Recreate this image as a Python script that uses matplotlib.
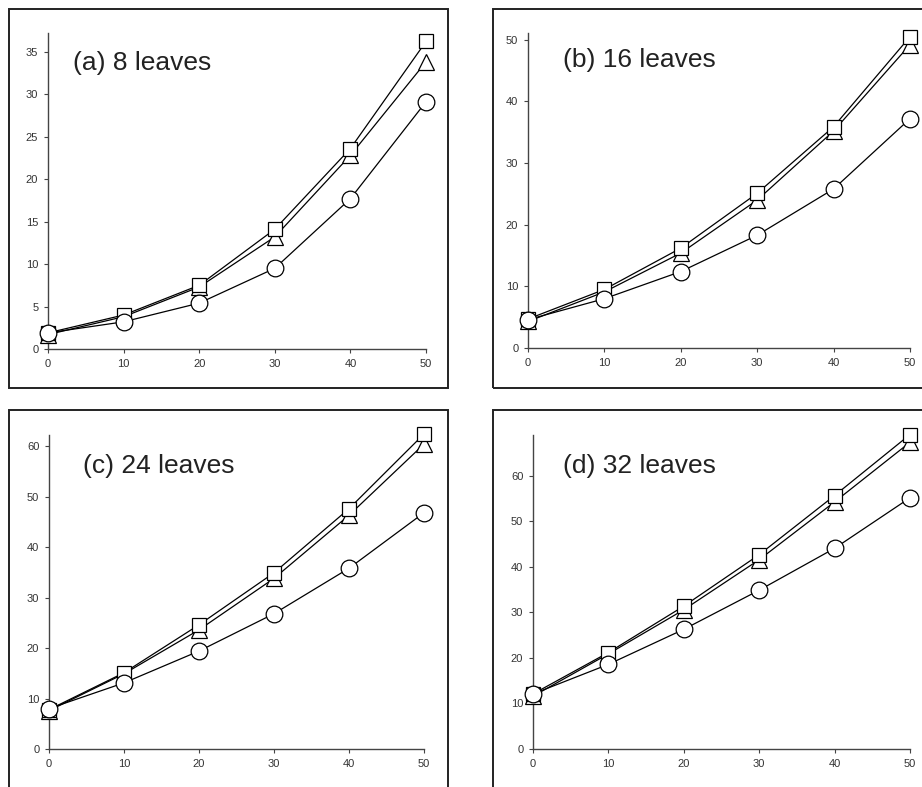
import matplotlib
matplotlib.use("Agg")
import matplotlib.pyplot as plt
from matplotlib.patches import Rectangle

plt.rcParams['font.family'] = ['Liberation Sans', 'DejaVu Sans']

x = [0, 10, 20, 30, 40, 50]

titles = ["(a) 8 leaves", "(b) 16 leaves", "(c) 24 leaves", "(d) 32 leaves"]

square = [
    [1.9, 4.0, 7.5, 14.1, 23.6, 36.2],
    [4.7, 9.5, 16.2, 25.1, 35.9, 50.5],
    [7.8, 15.1, 24.6, 34.9, 47.6, 62.4],
    [12.1, 21.2, 31.4, 42.7, 55.7, 69.1],
]
triangle = [
    [1.7, 3.8, 7.3, 13.2, 22.8, 33.8],
    [4.3, 9.1, 15.4, 24.0, 35.2, 49.2],
    [7.6, 14.9, 23.6, 33.8, 46.3, 60.4],
    [11.6, 20.9, 30.6, 41.6, 54.3, 67.4],
]
circle = [
    [1.9, 3.2, 5.4, 9.5, 17.7, 29.1],
    [4.6, 8.0, 12.4, 18.3, 25.8, 37.2],
    [8.0, 13.1, 19.4, 26.8, 35.8, 46.8],
    [12.1, 18.6, 26.3, 34.9, 44.1, 55.2],
]

y_tops = [37.2, 51.1, 62.2, 69.0]
y_steps = [5, 10, 10, 10]
y_maxtick = [35, 50, 60, 60]

W, H = 922, 787
# axes boxes in pixels: left, right, bottom, top (from top of image)
ax_px = [(48, 426, 349, 33), (528, 910, 348, 33), (49, 424, 749, 435), (533, 910, 749, 435)]
# frame boxes in pixels: left, right, top, bottom
frame_px = [(9, 448, 9, 388), (493, 940, 9, 388), (9, 448, 410, 800), (493, 940, 410, 800)]
# text positions: left, baseline
text_px = [(73, 70), (563, 67), (83, 473), (563, 473)]

fig = plt.figure(figsize=(W / 100, H / 100), dpi=100)
fig.patch.set_facecolor('white')

for (l, r, t, b) in frame_px:
    fig.patches.append(Rectangle((l / W, 1 - b / H), (r - l) / W, (b - t) / H,
                                 transform=fig.transFigure, fill=False,
                                 edgecolor='#222222', linewidth=1.4))

axis_col = '#444444'
for i in range(4):
    l, r, b, t = ax_px[i]
    ax = fig.add_axes([l / W, 1 - b / H, (r - l) / W, (b - t) / H])
    ax.set_facecolor('none')
    ax.plot(x, triangle[i], color='black', lw=0.9, marker='^', ms=11,
            mfc='white', mec='black', mew=0.9, clip_on=False, zorder=3)
    ax.plot(x, square[i], color='black', lw=0.9, marker='s', ms=9.5,
            mfc='white', mec='black', mew=0.9, clip_on=False, zorder=4)
    ax.plot(x, circle[i], color='black', lw=0.9, marker='o', ms=12,
            mfc='white', mec='black', mew=0.9, clip_on=False, zorder=5)
    ax.set_xlim(0, 50)
    ax.set_ylim(0, y_tops[i])
    ax.set_xticks(x)
    ax.set_yticks(list(range(0, y_maxtick[i] + 1, y_steps[i])))
    for s in ['top', 'right']:
        ax.spines[s].set_visible(False)
    for s in ['left', 'bottom']:
        ax.spines[s].set_color(axis_col)
        ax.spines[s].set_linewidth(1.0)
    ax.tick_params(direction='out', length=3, width=0.8, color=axis_col,
                   labelsize=8, labelcolor='#333333', pad=4)
    tx, ty = text_px[i]
    fig.text(tx / W, 1 - ty / H, titles[i], fontsize=19, color='#222222',
             ha='left', va='baseline')

fig.savefig('out.png', dpi=100)
